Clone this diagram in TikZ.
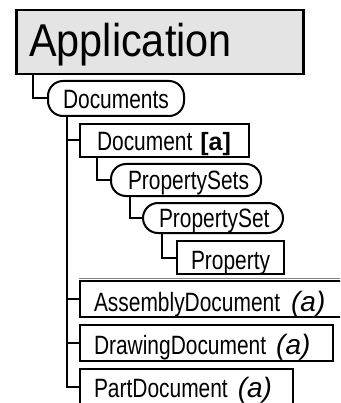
\documentclass[tikz,border=0pt]{standalone}
\usepackage{fontspec}
\setmainfont{Liberation Sans}[FakeStretch=0.79]
\newfontfamily\widefont{Liberation Sans}
\newfontfamily\titlefont{Liberation Sans}[FakeStretch=0.9]
\definecolor{appfill}{RGB}{228,228,228}
\newcommand{\tagA}{{\widefont\itshape\fontsize{28}{28}\selectfont (a)}}
\newcommand{\tagB}{{\widefont\bfseries\fontsize{25}{25}\selectfont [a]}}
\begin{document}
\begin{tikzpicture}[x=1pt,y=-1pt,
  item/.style={draw, line width=2pt, anchor=north west, inner xsep=0pt, inner ysep=0pt,
    text depth=0pt, align=left, font=\fontsize{26.5}{26.5}\selectfont},
  pill/.style={item, rounded corners=15pt},
  wire/.style={line width=2pt}]
\useasboundingbox (0,0) rectangle (340,403);
\clip (0,0) rectangle (340,403);

% object boxes
\node[item, fill=appfill, line width=2.5pt, font=\titlefont\fontsize{46}{46}\selectfont,
  minimum width=287pt, minimum height=64pt, text width=287pt, text height=28pt]
  (app) at (15,9) {\hspace*{13pt}Application};
\node[pill, minimum width=136pt, minimum height=35pt, text width=136pt, text height=21pt]
  (docs) at (47,80) {\hspace*{15pt}Documents};
\node[item, minimum width=169pt, minimum height=33pt, text width=169pt, text height=19pt]
  (doc) at (79,123) {\hspace*{17pt}Document\hspace{8pt}\tagB};
\node[pill, minimum width=150pt, minimum height=32pt, text width=150pt, text height=18pt]
  (psets) at (110,163) {\hspace*{17pt}PropertySets};
\node[pill, minimum width=140pt, minimum height=30pt, text width=140pt, text height=18pt]
  (pset) at (142,202) {\hspace*{16pt}PropertySet};
\node[item, minimum width=107pt, minimum height=33pt, text width=107pt, text height=23pt]
  (prop) at (176,240) {\hspace*{14pt}Property};
\node[item, minimum width=275pt, minimum height=36pt, text width=275pt, text height=24pt]
  (asm) at (79,280) {\hspace*{14pt}AssemblyDocument\hspace{11pt}\tagA};
\node[item, minimum width=253pt, minimum height=36pt, text width=253pt, text height=22pt]
  (drw) at (79,324) {\hspace*{14pt}DrawingDocument\hspace{10pt}\tagA};
\node[item, minimum width=213pt, minimum height=35pt, text width=213pt, text height=21pt]
  (part) at (79,368) {\hspace*{14pt}PartDocument\hspace{10pt}\tagA};

% thin rule above the AssemblyDocument box
\draw[gray, line width=0.8pt] ([yshift=2pt]asm.north west) -- ++(262,0);

% tree connectors
\draw[wire] ([xshift=18pt]app.south west) |- (docs.west);
\coordinate (trunk) at ([xshift=20pt]docs.south west);
\draw[wire] (trunk) |- (part.west);
\draw[wire] (doc.west) -- (doc.west -| trunk);
\draw[wire] (asm.west) -- (asm.west -| trunk);
\draw[wire] (drw.west) -- (drw.west -| trunk);
\draw[wire] ([xshift=18pt]doc.south west) |- (psets.west);
\draw[wire] ([xshift=20pt]psets.south west) |- (pset.west);
\draw[wire] ([xshift=20pt]pset.south west) |- (prop.west);
\end{tikzpicture}
\end{document}
